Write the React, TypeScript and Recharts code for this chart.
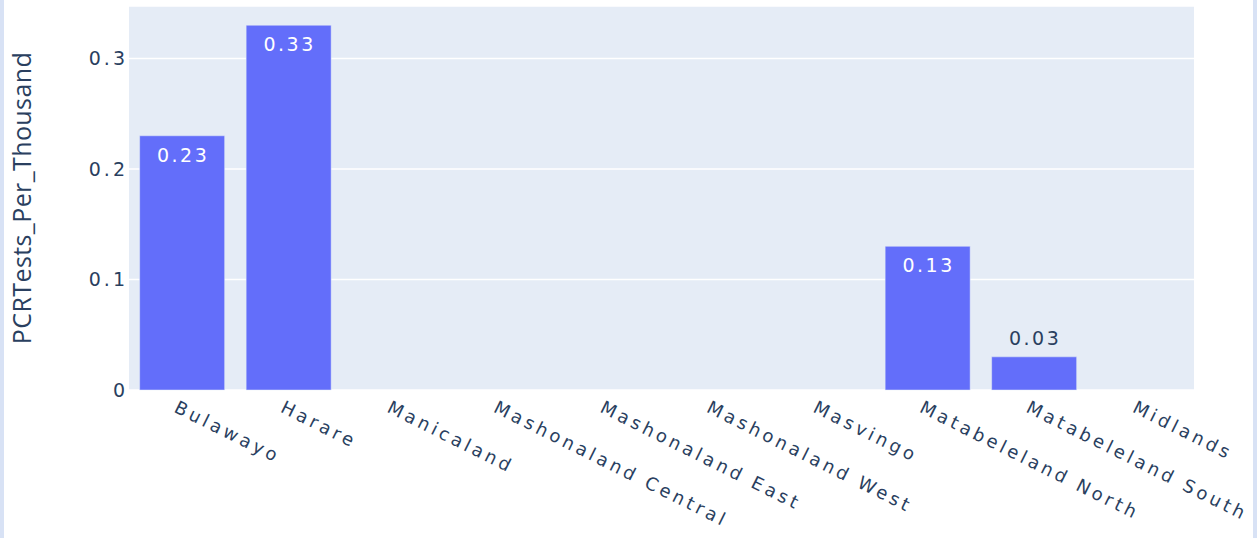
import { BarChart, Bar, XAxis, YAxis, CartesianGrid, LabelList } from "recharts";

const regions = [
  "Bulawayo",
  "Harare",
  "Manicaland",
  "Mashonaland Central",
  "Mashonaland East",
  "Mashonaland West",
  "Masvingo",
  "Matabeleland North",
  "Matabeleland South",
  "Midlands",
];
const pcrPerThousand = [0.23, 0.33, 0, 0, 0, 0, 0, 0.13, 0.03, 0];
const yTicks = [0, 0.1, 0.2, 0.3];

const data = regions.map((region, i) => ({ region, value: pcrPerThousand[i] }));

const ink = "#2a3f5f";
const tickFont = "DejaVu Sans, Verdana, sans-serif";

function XTick({ x, y, payload }: any) {
  const ax = x - 3;
  const ay = y + 9;
  return (
    <text
      x={ax}
      y={ay}
      dy="0.78em"
      textAnchor="start"
      transform={`rotate(26.5, ${ax}, ${ay})`}
      fill={ink}
      fontFamily={tickFont}
      fontSize={18}
      letterSpacing={3.6}
    >
      {payload.value}
    </text>
  );
}

function YTick({ x, y, payload }: any) {
  return (
    <text
      x={x + 3}
      y={y}
      dy="0.36em"
      textAnchor="end"
      fill={ink}
      fontFamily={tickFont}
      fontSize={19}
      letterSpacing={3}
    >
      {payload.value}
    </text>
  );
}

function BarValue({ x, y, width, value }: any) {
  if (!value) return null;
  const inside = value > 0.1;
  return (
    <text
      x={x + width / 2 + 1}
      y={inside ? y + 26 : y - 12}
      textAnchor="middle"
      fill={inside ? "#ffffff" : ink}
      fontFamily={tickFont}
      fontSize={19}
      letterSpacing={2.5}
    >
      {value.toFixed(2)}
    </text>
  );
}

export default function App() {
  return (
    <div style={{ position: "fixed", left: 0, top: 0, width: 1257, height: 538, background: "#fff" }}>
      <div style={{ position: "absolute", left: 0, top: 0, width: 4, height: 538, background: "#d8e2f5" }} />
      <div style={{ position: "absolute", left: 1253, top: 0, width: 4, height: 538, background: "#d8e2f5" }} />
      <BarChart
        width={1257}
        height={538}
        data={data}
        margin={{ top: 6, right: 63, bottom: 0, left: 0 }}
        barCategoryGap="10%"
      >
        <CartesianGrid fill="#E5ECF6" stroke="#ffffff" strokeWidth={1.5} vertical={false} />
        <XAxis
          dataKey="region"
          interval={0}
          height={148}
          tickLine={false}
          axisLine={false}
          tickSize={0}
          tickMargin={0}
          tick={<XTick />}
        />
        <YAxis
          width={129}
          domain={[0, 0.3474]}
          ticks={yTicks}
          tickLine={false}
          axisLine={false}
          tickSize={0}
          tickMargin={4}
          tick={<YTick />}
          label={{
            value: "PCRTests_Per_Thousand",
            angle: -90,
            position: "insideLeft",
            dx: 17,
            dy: 0,
            style: {
              fill: ink,
              fontFamily: "Open Sans, sans-serif",
              fontSize: 25,
              letterSpacing: 0.4,
              textAnchor: "middle",
            },
          }}
        />
        <Bar dataKey="value" fill="#636EFA" stroke="#E5ECF6" strokeWidth={0.5} isAnimationActive={false}>
          <LabelList dataKey="value" content={<BarValue />} />
        </Bar>
      </BarChart>
    </div>
  );
}
